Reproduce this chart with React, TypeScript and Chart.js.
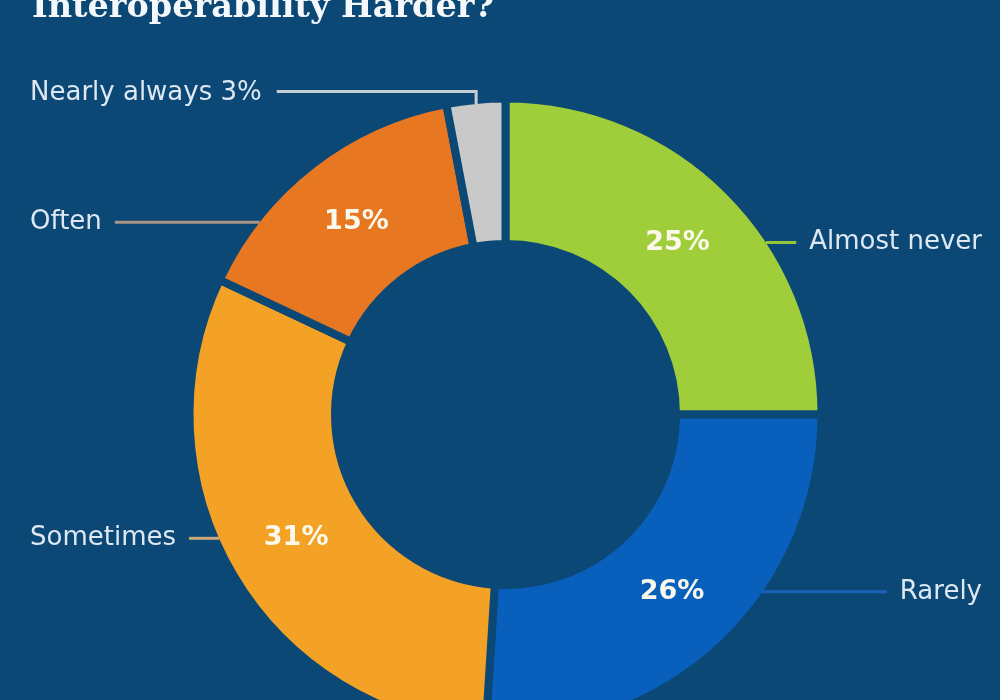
import React, { useEffect, useRef } from 'react';
import { Chart, registerables } from 'chart.js';

Chart.register(...registerables);

const TITLE = 'Interoperability Harder?';
const categories = ['Almost never', 'Rarely', 'Sometimes', 'Often', 'Nearly always'];
const values = [25, 26, 31, 15, 3];
const sliceColors = ['#a0cd3a', '#0860bc', '#f4a225', '#e87722', '#c9c9c9'];
const leaderColors = ['#94c63a', '#1a62b8', '#c9a77c', '#ab9584', '#c6ced6'];

const BG = '#0c4876';
const BORDER = 8;

const labelPlugin = {
  id: 'donutLabels',
  beforeDraw(chart: any) {
    const ctx = chart.ctx;
    ctx.save();
    ctx.fillStyle = BG;
    ctx.fillRect(0, 0, chart.width, chart.height);
    ctx.restore();
  },
  afterDraw(chart: any) {
    const ctx = chart.ctx;
    const meta = chart.getDatasetMeta(0);
    ctx.save();
    // title (only its lower part is visible, as in the source)
    ctx.font = 'bold 33.5px "DejaVu Serif"';
    ctx.fillStyle = '#f4f8fb';
    ctx.textAlign = 'left';
    ctx.textBaseline = 'alphabetic';
    ctx.fillText(TITLE, 32, 17);

    meta.data.forEach((arc: any, i: number) => {
      const p = arc.getProps(['x', 'y', 'startAngle', 'endAngle', 'innerRadius', 'outerRadius'], true);
      const Rv = p.outerRadius - BORDER / 2;
      const a = (p.startAngle + p.endAngle) / 2;
      const rm = (p.innerRadius + p.outerRadius) / 2;
      const px = p.x + Math.cos(a) * rm;
      const py = p.y + Math.sin(a) * rm;
      const small = values[i] < 5;
      ctx.lineWidth = 3;
      ctx.strokeStyle = leaderColors[i];
      ctx.font = '26px "DejaVu Sans"';
      ctx.fillStyle = '#dde8f2';
      ctx.textBaseline = 'middle';
      if (small) {
        const ex = p.x + Math.cos(a) * Rv;
        const ey = p.y + Math.sin(a) * Rv;
        const ly = p.y - Rv - 11;
        const text = `${categories[i]} ${values[i]}%`;
        ctx.textAlign = 'left';
        const tw = ctx.measureText(text).width;
        ctx.beginPath();
        ctx.moveTo(ex, ey);
        ctx.lineTo(ex, ly);
        ctx.lineTo(30 + tw + 15, ly);
        ctx.stroke();
        ctx.fillText(text, 30, ly + 2);
      } else {
        const right = Math.cos(a) > 0;
        const dy = py - p.y;
        const ax = p.x + (right ? 1 : -1) * Math.sqrt(Math.max(Rv * Rv - dy * dy, 0));
        const text = categories[i];
        const tw = ctx.measureText(text).width;
        ctx.beginPath();
        if (right) {
          ctx.moveTo(ax, py);
          ctx.lineTo(982 - tw - 13, py);
        } else {
          ctx.moveTo(ax, py);
          ctx.lineTo(30 + tw + 13, py);
        }
        ctx.stroke();
        ctx.textAlign = right ? 'right' : 'left';
        ctx.fillText(text, right ? 982 : 30, py);
        // percent label
        ctx.font = 'bold 27px "DejaVu Sans"';
        ctx.fillStyle = '#fbf8ec';
        ctx.textAlign = 'center';
        ctx.fillText(`${values[i]}%`, px, py);
      }
    });
    ctx.restore();
  },
};

export default function App() {
  const ref = useRef<HTMLCanvasElement | null>(null);
  useEffect(() => {
    if (!ref.current) return;
    const chart = new Chart(ref.current, {
      type: 'doughnut',
      data: {
        labels: categories,
        datasets: [
          {
            data: values,
            backgroundColor: sliceColors,
            borderColor: BG,
            borderWidth: BORDER,
            hoverOffset: 0,
          },
        ],
      },
      options: {
        responsive: false,
        animation: false,
        events: [],
        cutout: 170.5,
        layout: { padding: { left: 185.5, right: 174.5, top: 94.5, bottom: 25.5 } },
        plugins: {
          legend: { display: false },
          tooltip: { enabled: false },
          title: { display: false },
        },
      },
      plugins: [labelPlugin],
    } as any);
    return () => chart.destroy();
  }, []);
  return (
    <div
      style={{
        position: 'fixed',
        left: 0,
        top: 0,
        width: 1000,
        height: 700,
        overflow: 'hidden',
        background: BG,
      }}
    >
      <canvas ref={ref} width={1000} height={760} style={{ display: 'block', width: 1000, height: 760 }} />
    </div>
  );
}
